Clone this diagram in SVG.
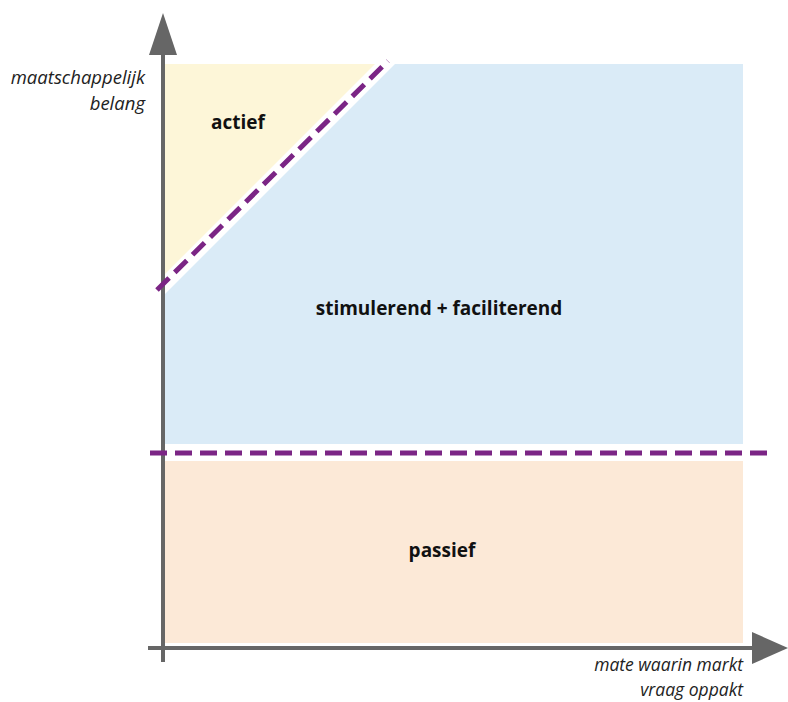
<svg xmlns="http://www.w3.org/2000/svg" width="788" height="702" viewBox="0 0 788 702">
<style>
.axis{stroke:#666;stroke-width:4;fill:none}
.head{fill:#666}
.div{stroke:#7B2585;stroke-width:5;stroke-dasharray:17 8;fill:none}
.lbl{font-family:"Open Sans","Liberation Sans",sans-serif;font-weight:bold;font-size:19px;fill:#111}
.ax{font-family:"Open Sans","Liberation Sans",sans-serif;font-style:italic;font-size:18.5px;fill:#222}
.axb{font-size:17.5px}
</style>
<rect width="788" height="702" fill="#fff"/>
<g id="actief">
<polygon points="165,64 375,64 165,274" fill="#FDF6D8"/>
<text class="lbl" x="238" y="129" text-anchor="middle">actief</text>
</g>
<g id="stimulerend">
<polygon points="395,64 743,64 743,444 165,444 165,294" fill="#DAEBF7"/>
<text class="lbl" x="439" y="315" text-anchor="middle">stimulerend + faciliterend</text>
</g>
<g id="passief">
<rect x="165" y="461" width="578" height="182" fill="#FCE9D7"/>
<text class="lbl" x="442" y="557" text-anchor="middle">passief</text>
</g>
<g id="axes">
<line class="axis" x1="163" y1="662" x2="163" y2="50"/>
<polygon class="head" points="163,13 149,55 177,55"/>
<line class="axis" x1="148" y1="648" x2="755" y2="648"/>
<polygon class="head" points="788,648 752,632 752,664"/>
<text class="ax" x="145" y="84" text-anchor="end">maatschappelijk</text>
<text class="ax" x="145" y="110" text-anchor="end">belang</text>
<text class="ax axb" x="743" y="671" text-anchor="end">mate waarin markt</text>
<text class="ax axb" x="743" y="696" text-anchor="end">vraag oppakt</text>
</g>
<g id="connectors">
<line class="div" x1="157" y1="290" x2="388" y2="61"/>
<line class="div" x1="150" y1="453" x2="768" y2="453"/>
</g>
</svg>
